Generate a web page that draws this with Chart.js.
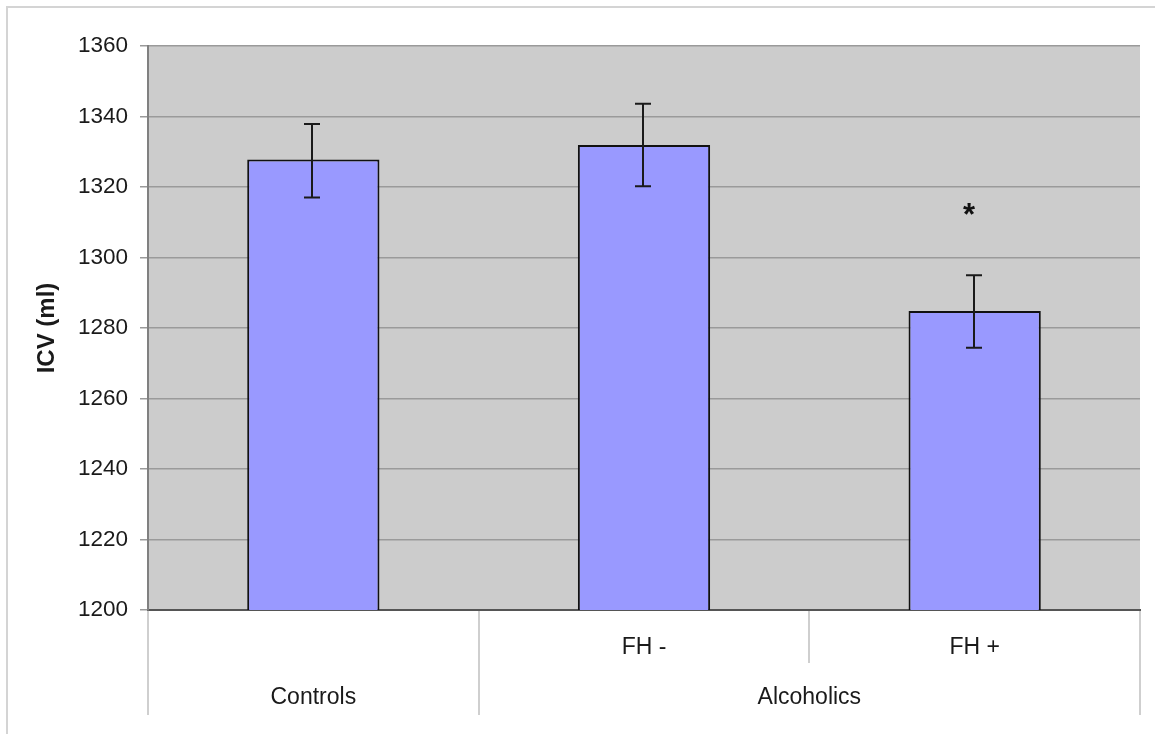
<!DOCTYPE html>
<html>
<head>
<meta charset="utf-8">
<script src="https://cdn.jsdelivr.net/npm/chart.js@4.4.0/dist/chart.umd.min.js"></script>
<style>
  html, body { margin: 0; padding: 0; background: #ffffff; }
  #wrap { width: 1155px; height: 734px; position: relative; }
</style>
</head>
<body>
<div id="wrap"><canvas id="c" width="1155" height="734"></canvas></div>
<script>
// ---- data ----
const subLabels = ['', 'FH -', 'FH +'];
const groupLabels = ['Controls', 'Alcoholics'];
const groupSpans = [1, 2];
const means = [1327.8, 1331.9, 1284.8];
const errUpper = [1337.9, 1343.6, 1295.0];
const errLower = [1317.0, 1320.2, 1274.4];
const sigMarkers = ['', '', '*'];
const sigMarkerValue = [null, null, 1309.2];
const yTitle = 'ICV (ml)';
const yMin = 1200, yMax = 1360, yStep = 20;

const FONT = "'Liberation Sans', Arial, sans-serif";

const custom = {
  id: 'custom',
  beforeDraw(chart) {
    const ctx = chart.ctx;
    const a = chart.chartArea;
    ctx.save();
    ctx.fillStyle = '#ffffff';
    ctx.fillRect(0, 0, chart.width, chart.height);
    // outer frame
    ctx.strokeStyle = '#d4d4d4';
    ctx.lineWidth = 2;
    ctx.beginPath();
    ctx.moveTo(7, chart.height);
    ctx.lineTo(7, 7);
    ctx.lineTo(chart.width, 7);
    ctx.stroke();
    // plot background
    ctx.fillStyle = '#cccccc';
    ctx.fillRect(a.left, a.top, a.right - a.left, a.bottom - a.top);
    ctx.restore();
  },
  afterDatasetsDraw(chart) {
    const ctx = chart.ctx;
    const ys = chart.scales.y;
    const meta = chart.getDatasetMeta(0);
    ctx.save();
    ctx.strokeStyle = '#1a1a1a';
    ctx.lineWidth = 2;
    meta.data.forEach((bar, i) => {
      const x = Math.round(bar.x) - 1;
      const yt = ys.getPixelForValue(errUpper[i]);
      const yb = ys.getPixelForValue(errLower[i]);
      ctx.beginPath();
      ctx.moveTo(x, yt); ctx.lineTo(x, yb);
      ctx.moveTo(x - 8, yt); ctx.lineTo(x + 8, yt);
      ctx.moveTo(x - 8, yb); ctx.lineTo(x + 8, yb);
      ctx.stroke();
      if (sigMarkers[i]) {
        ctx.fillStyle = '#111111';
        ctx.font = 'bold 31px ' + FONT;
        ctx.textAlign = 'center';
        ctx.textBaseline = 'alphabetic';
        ctx.fillText(sigMarkers[i], x - 5, ys.getPixelForValue(sigMarkerValue[i]));
      }
    });
    ctx.restore();
  },
  afterDraw(chart) {
    const ctx = chart.ctx;
    const xs = chart.scales.x;
    const a = chart.chartArea;
    const n = subLabels.length;
    const half = (xs.getPixelForValue(1) - xs.getPixelForValue(0)) / 2;
    ctx.save();
    // separators
    ctx.strokeStyle = '#cfcfcf';
    ctx.lineWidth = 2;
    const bounds = [];
    for (let i = 0; i <= n; i++) bounds.push(i === 0 ? xs.getPixelForValue(0) - half : xs.getPixelForValue(i - 1) + half);
    const groupEdges = new Set([0]);
    let acc = 0;
    groupSpans.forEach(s => { acc += s; groupEdges.add(acc); });
    bounds.forEach((bx, i) => {
      const x = Math.round(bx);
      ctx.beginPath();
      ctx.moveTo(x, a.bottom + 1);
      ctx.lineTo(x, groupEdges.has(i) ? a.bottom + 105 : a.bottom + 53);
      ctx.stroke();
    });
    // sub labels
    ctx.fillStyle = '#1a1a1a';
    ctx.font = '23px ' + FONT;
    ctx.textAlign = 'center';
    ctx.textBaseline = 'middle';
    subLabels.forEach((l, i) => {
      if (l) ctx.fillText(l, xs.getPixelForValue(i), a.bottom + 38);
    });
    // group labels
    let start = 0;
    groupSpans.forEach((s, g) => {
      const x0 = bounds[start], x1 = bounds[start + s];
      ctx.fillText(groupLabels[g], (x0 + x1) / 2, a.bottom + 88);
      start += s;
    });
    // y title
    ctx.font = 'bold 24px ' + FONT;
    ctx.translate(47, (a.top + a.bottom) / 2);
    ctx.rotate(-Math.PI / 2);
    ctx.fillText(yTitle, 0, 0);
    ctx.restore();
  }
};

new Chart(document.getElementById('c'), {
  type: 'bar',
  data: {
    labels: subLabels,
    datasets: [{
      data: means,
      backgroundColor: '#9999ff',
      borderColor: '#111111',
      borderWidth: 2,
      borderSkipped: false,
      barPercentage: 0.4,
      categoryPercentage: 1.0
    }]
  },
  options: {
    responsive: false,
    animation: false,
    devicePixelRatio: 1,
    layout: { padding: { top: 46, right: 15, left: 0, bottom: 0 } },
    plugins: { legend: { display: false }, tooltip: { enabled: false } },
    scales: {
      x: {
        type: 'category',
        grid: { display: false, drawTicks: false },
        border: { display: true, color: '#555555', width: 2 },
        ticks: { display: false },
        afterFit(scale) { scale.height = 124; }
      },
      y: {
        min: yMin, max: yMax,
        ticks: {
          stepSize: yStep,
          color: '#1a1a1a',
          font: { family: FONT, size: 22.5 },
          padding: 12,
          callback: v => String(v)
        },
        grid: { color: '#9a9a9a', lineWidth: 1.5, tickLength: 8, tickColor: '#9a9a9a' },
        border: { display: true, color: '#808080', width: 2 },
        afterFit(scale) { scale.width = 148; }
      }
    }
  },
  plugins: [custom]
});
</script>
</body>
</html>
